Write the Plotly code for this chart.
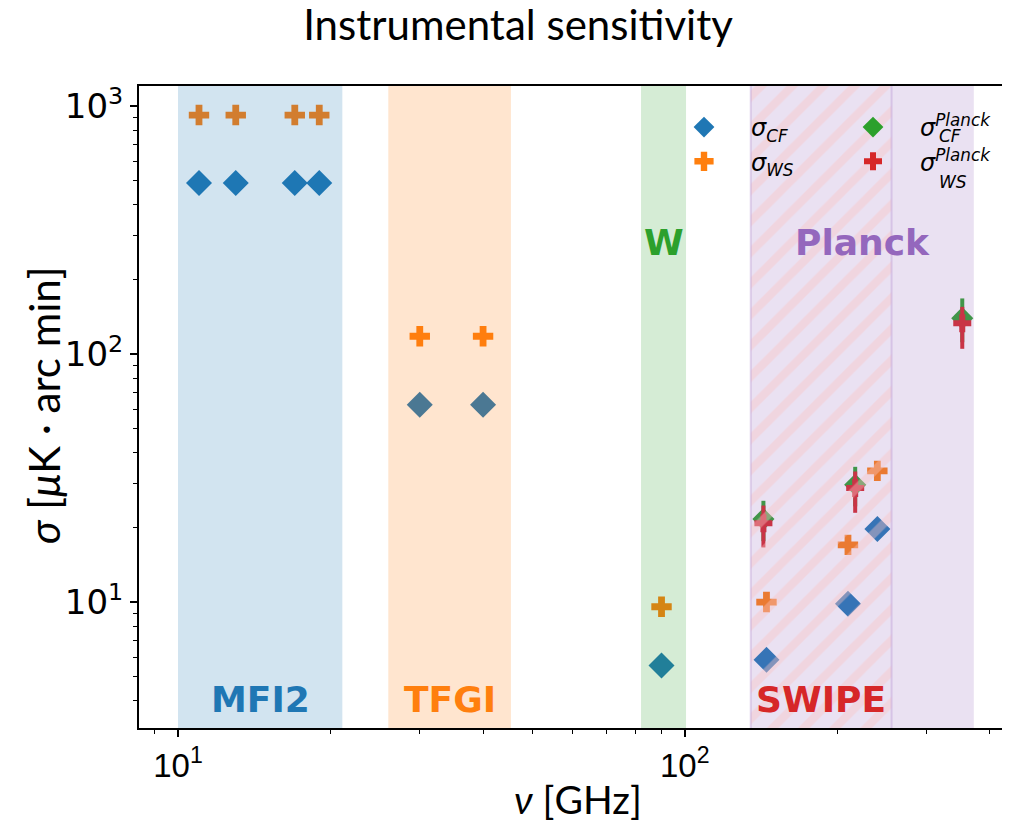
import plotly.graph_objects as go
import numpy as np

# ---------------- data ----------------
freq = [11, 13, 17, 19, 30, 40, 90, 145, 210, 240]
sigma_cf = [490, 490, 490, 490, 62.5, 62.5, 5.55, 5.85, 9.85, 19.7]
sigma_ws = [920, 920, 920, 920, 118, 118, 9.57, 10.0, 17.0, 33.8]

planck_freq = [143, 217, 353]
planck_cf = [21.6, 29.7, 139.6]
planck_cf_err = [4.0, 5.4, 28.0]
planck_ws = [20.8, 28.8, 133.0]
planck_ws_err_plus = [3.7, 4.8, 22.0]
planck_ws_err_minus = [4.2, 5.9, 28.0]

band_names = ["MFI2", "TFGI", "W", "SWIPE", "Planck"]
band_lo = [10.0, 26.0, 82.0, 135.0, 135.0]
band_hi = [21.1, 45.4, 100.6, 256.0, 372.0]

x_ticks = [10, 100]
x_ticktext = ["10<sup>1</sup>", "10<sup>2</sup>"]
y_ticks = [10, 100, 1000]
y_ticktext = ["10<sup>1</sup>", "10<sup>2</sup>", "10<sup>3</sup>"]

# ---------------- style ----------------
C_BLUE = "#1f77b4"
C_ORANGE = "#ff7f0e"
C_GREEN = "#2ca02c"
C_RED = "#d62728"
C_PURPLE = "#9467bd"
band_fill = {
    "MFI2": "rgba(31,119,180,0.2)",
    "TFGI": "rgba(255,127,14,0.2)",
    "W": "rgba(44,160,44,0.2)",
    "Planck": "rgba(148,103,189,0.2)",
}
band_text_color = {"MFI2": C_BLUE, "TFGI": C_ORANGE, "W": C_GREEN,
                   "SWIPE": C_RED, "Planck": C_PURPLE}

OFF = 8  # page body margin
W_PX, H_PX = 1002, 814
L, R, T, B = 131, 0, 78, 94
XR = [0.923, 2.642]
YR = [0.492, 3.081]
pw = W_PX - L - R
ph = H_PX - T - B


def px_x(sx):  # screen x -> paper
    return (sx - OFF - L) / pw


def px_y(sy):  # screen y -> paper
    return 1 - (sy - OFF - T) / ph


fig = go.Figure()

leg_font = dict(family="DejaVu Sans", size=24, color="black")

fig.add_trace(go.Scatter(
    x=freq, y=sigma_cf, mode="markers", name="<i>σ<sub>CF</sub></i>",
    marker=dict(symbol="diamond", size=20, color=C_BLUE, line=dict(width=0)),
    legend="legend"))
fig.add_trace(go.Scatter(
    x=freq, y=sigma_ws, mode="markers", name="<i>σ<sub>WS</sub></i>",
    marker=dict(symbol="cross", size=17, color=C_ORANGE, line=dict(width=0)),
    legend="legend"))
fig.add_trace(go.Scatter(
    x=planck_freq, y=planck_cf, mode="markers",
    name="<i>σ<sup>Planck</sup></i>",
    marker=dict(symbol="diamond", size=17, color=C_GREEN, line=dict(width=0)),
    error_y=dict(type="data", array=planck_cf_err, color=C_GREEN,
                 thickness=4, width=0),
    legend="legend2"))
fig.add_trace(go.Scatter(
    x=planck_freq, y=planck_ws, mode="markers",
    name="<i>σ<sup>Planck</sup></i>",
    marker=dict(symbol="cross", size=15, color=C_RED, line=dict(width=0)),
    error_y=dict(type="data", symmetric=False, array=planck_ws_err_plus,
                 arrayminus=planck_ws_err_minus, color=C_RED,
                 thickness=4, width=0),
    legend="legend2"))

# bands drawn over the markers (as in the reference)
big_lo, big_hi = 1e-2, 1e5
for name, lo, hi in zip(band_names, band_lo, band_hi):
    if name == "SWIPE":
        continue
    fig.add_trace(go.Scatter(
        x=[lo, hi, hi, lo, lo], y=[big_lo, big_lo, big_hi, big_hi, big_lo],
        mode="lines", fill="toself",
        fillcolor=band_fill[name], line=dict(width=0),
        hoverinfo="skip", showlegend=False))

# hatched SWIPE band
i = band_names.index("SWIPE")
lo, hi = band_lo[i], band_hi[i]
fig.add_trace(go.Scatter(
    x=[lo, hi, hi, lo, lo], y=[big_lo, big_lo, big_hi, big_hi, big_lo],
    mode="lines", fill="toself", fillcolor="rgba(0,0,0,0)",
    fillpattern=dict(shape="/", fgcolor="rgba(250,195,195,0.8)",
                     bgcolor="rgba(0,0,0,0)", size=22, solidity=0.38,
                     fillmode="overlay"),
    line=dict(width=2, color="rgba(190,160,215,0.45)"),
    hoverinfo="skip", showlegend=False))

# band labels
label_y = {"MFI2": 0.605, "TFGI": 0.605, "SWIPE": 0.605, "W": 2.448, "Planck": 2.448}
for name, lo, hi in zip(band_names, band_lo, band_hi):
    fig.add_annotation(
        x=0.5 * (np.log10(lo) + np.log10(hi)), y=label_y[name],
        xref="x", yref="y", text=f"<b>{name}</b>", showarrow=False,
        font=dict(family="DejaVu Sans", size=36, color=band_text_color[name]),
        xanchor="center", yanchor="middle")

# subscripts for the stacked Planck legend labels
for sub, sy in zip(["CF", "WS"], [136, 182]):
    fig.add_annotation(
        x=px_x(937), y=px_y(sy), xref="paper", yref="paper",
        text=f"<i>{sub}</i>", showarrow=False,
        font=dict(family="DejaVu Sans", size=17, color="black"),
        xanchor="left", yanchor="middle")

# axis titles
fig.add_annotation(
    x=px_x(578), y=px_y(799), xref="paper", yref="paper",
    text="<i>ν</i> [GHz]", showarrow=False,
    font=dict(family="Lato", size=39, color="black"),
    xanchor="center", yanchor="middle")
fig.add_annotation(
    x=px_x(44), y=px_y(405), xref="paper", yref="paper",
    text="<i>σ</i> [<i>μ</i>K · arc min]", showarrow=False, textangle=-90,
    font=dict(family="Lato", size=42, color="black"),
    xanchor="center", yanchor="middle")

minor_x = [9, 20, 30, 40, 50, 60, 70, 80, 90, 200, 300, 400]
minor_y = [4, 5, 6, 7, 8, 9, 20, 30, 40, 50, 60, 70, 80, 90,
           200, 300, 400, 500, 600, 700, 800, 900]

leg_common = dict(orientation="v", xanchor="left", yanchor="top",
                  bgcolor="rgba(0,0,0,0)", borderwidth=0, font=leg_font,
                  itemsizing="trace", itemwidth=84, tracegroupgap=0)

fig.update_layout(
    width=W_PX, height=H_PX,
    margin=dict(l=L, r=R, t=T, b=B, autoexpand=False),
    plot_bgcolor="white", paper_bgcolor="white",
    title=dict(text="Instrumental sensitivity", x=(518 - OFF) / W_PX, xref="container",
               y=1, yref="container", xanchor="center", yanchor="top",
               pad=dict(t=3),
               font=dict(family="Lato", size=42, color="black")),
    showlegend=True,
    legend=dict(x=px_x(657), y=px_y(105), **leg_common),
    legend2=dict(x=px_x(826), y=px_y(105), **leg_common),
    xaxis=dict(type="log", range=XR, showgrid=False, zeroline=False,
               showline=True, linecolor="black", linewidth=2, mirror=True,
               ticks="outside", ticklen=7, tickwidth=2, tickcolor="black",
               tickvals=x_ticks, ticktext=x_ticktext,
               tickfont=dict(family="Liberation Sans Narrow, Arial Narrow, sans-serif",
                             size=33, color="black"),
               ticklabelstandoff=0,
               minor=dict(tickvals=minor_x, ticks="outside", ticklen=4,
                          tickwidth=1.3, tickcolor="black", showgrid=False)),
    yaxis=dict(type="log", range=YR, showgrid=False, zeroline=False,
               showline=True, linecolor="black", linewidth=2, mirror=False,
               ticks="outside", ticklen=7, tickwidth=2, tickcolor="black",
               tickvals=y_ticks, ticktext=y_ticktext,
               tickfont=dict(family="DejaVu Sans", size=34, color="black"),
               ticklabelstandoff=0,
               minor=dict(tickvals=minor_y, ticks="outside", ticklen=4,
                          tickwidth=1.3, tickcolor="black", showgrid=False)),
)

fig.write_html("out.html")
